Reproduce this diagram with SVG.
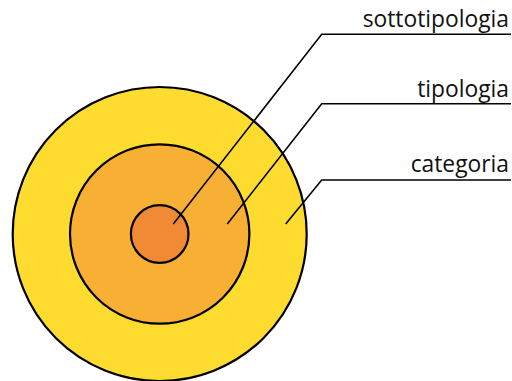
<svg xmlns="http://www.w3.org/2000/svg" width="512" height="381" viewBox="0 0 512 381">
<style>
.ring{stroke:#000;stroke-width:2.2}
.lead{fill:none;stroke:#000;stroke-width:1.6}
.lbl{font-family:"Open Sans","Noto Sans",sans-serif;font-size:22.8px;fill:#111;text-anchor:end}
</style>
<rect width="512" height="381" fill="#fff"/>
<g id="categoria"><circle class="ring" cx="159.7" cy="234" r="147" fill="#FDDC2F"/></g>
<g id="tipologia"><circle class="ring" cx="159.7" cy="234" r="89.7" fill="#F7B034"/></g>
<g id="sottotipologia"><circle class="ring" cx="159.7" cy="234" r="28.8" fill="#F08A35"/></g>
<g id="connectors">
<polyline class="lead" points="173.3,224 321.7,34.3 511,34.3"/>
<polyline class="lead" points="227.3,224 321.7,103.7 511,103.7"/>
<polyline class="lead" points="285.7,224 321.7,180 511,180"/>
</g>
<g id="labels">
<text class="lbl" x="509" y="27.3">sottotipologia</text>
<text class="lbl" x="509" y="96.7">tipologia</text>
<text class="lbl" x="509" y="171.7">categoria</text>
</g>
</svg>
